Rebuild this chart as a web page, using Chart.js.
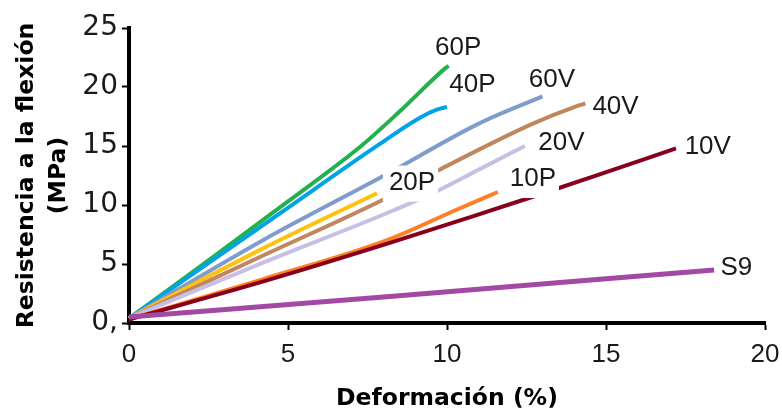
<!DOCTYPE html>
<html>
<head>
<meta charset="utf-8">
<script src="https://cdn.jsdelivr.net/npm/chart.js@4/dist/chart.umd.min.js"></script>
<style>
    html, body { margin: 0; padding: 0; background: #fff; }
</style>
</head>
<body>
<canvas id="flexCanvas" width="782" height="412"></canvas>
<script>
// series, first one is drawn on top
var series = ['S9', '10V', '10P', '20V', '40V', '20P', '60V', '40P', '60P'];

// deformacion (%) / resistencia (MPa)
var defS9 = [0, 8.2, 18.4];
var resS9 = [0.5, 2.25, 4.5];

var def10V = [0, 4.2, 8.1, 11.0, 12.7, 14.8, 17.2];
var res10V = [0.3, 3.5, 6.7, 9.2, 10.7, 12.6, 14.8];

var def10P = [0, 4.2, 8.1, 10.3, 11.6];
var res10P = [0.3, 3.7, 7.0, 9.6, 11.1];

var def20V = [0, 4.2, 8.1, 9.7, 11.0, 12.45];
var res20V = [0.4, 5.1, 9.3, 11.2, 13.0, 15.0];

var def40V = [0, 4.2, 8.1, 9.7, 12.7, 14.0, 14.35];
var res40V = [0.4, 5.7, 10.6, 12.9, 16.9, 18.3, 18.6];

var def20P = [0, 4.2, 7.8];
var res20P = [0.4, 6.3, 11.0];

var def60V = [0, 4.2, 8.1, 11.0, 13.0];
var res60V = [0.4, 7.0, 12.6, 16.9, 19.2];

var def40P = [0, 4.75, 7.9, 9.15, 9.7, 10.0];
var res40P = [0.4, 9.3, 15.2, 17.4, 18.1, 18.3];

var def60P = [0, 2.5, 5.0, 7.3, 8.5, 9.95, 10.05];
var res60P = [0.4, 5.3, 10.3, 15.0, 17.9, 21.6, 21.8];

var xTicks = [0, 5, 10, 15, 20];
var yTicks = [0, 5, 10, 15, 20, 25];

// where each name is written (data units)
var labelX = [19.1, 18.2, 12.7, 13.6, 15.3, 8.9, 13.3, 10.8, 10.35];
var labelY = [4.7, 14.9, 12.2, 15.3, 18.3, 11.9, 20.6, 20.2, 23.3];
var masked = [false, false, true, false, false, true, false, false, false];

var colors = ['#a349a4', '#88001b', '#ff7f27', '#c8bfe7', '#c2865e', '#ffc20e', '#7f9ccb', '#00a2e8', '#22b14c'];

var allDef = [defS9, def10V, def10P, def20V, def40V, def20P, def60V, def40P, def60P];
var allRes = [resS9, res10V, res10P, res20V, res40V, res20P, res60V, res40P, res60P];

var $each = function (arr, fn) { for (var i = 0; i < arr.length; i++) fn(i, arr[i]); };

var datasets = [];
$each(series, function (i, name) {
    var pts = [];
    $each(allDef[i], function (j, x) {
        pts.push({ x: x, y: allRes[i][j] });
    });
    datasets.push({
        label: name,
        data: pts,
        showLine: true,
        borderColor: colors[i],
        backgroundColor: colors[i],
        borderWidth: i == 0 ? 5 : 4,
        pointRadius: 0,
        cubicInterpolationMode: 'monotone',
        clip: false
    });
});

var seriesLabels = {
    id: 'seriesLabels',
    afterDatasetsDraw: function (chart) {
        var ctx = chart.ctx;
        var xs = chart.scales.x, ys = chart.scales.y;
        ctx.save();
        ctx.font = '26px "Liberation Sans", Arial, sans-serif';
        ctx.textAlign = 'center';
        ctx.textBaseline = 'middle';
        $each(series, function (i, name) {
            var px = xs.getPixelForValue(labelX[i]);
            var py = ys.getPixelForValue(labelY[i]);
            if (masked[i]) {
                var w = ctx.measureText(name).width;
                ctx.fillStyle = '#fff';
                ctx.fillRect(px - w / 2 - 6, py - 17, w + 9, 36);
            }
            ctx.fillStyle = '#1a1a1a';
            ctx.fillText(name, px, py);
        });
        ctx.restore();
    }
};

var ctx = document.getElementById('flexCanvas').getContext('2d');
new Chart(ctx, {
    type: 'scatter',
    data: { datasets: datasets },
    options: {
        responsive: false,
        animation: false,
        layout: { padding: { top: 28, right: 17, left: 0, bottom: 0 } },
        plugins: {
            legend: { display: false },
            tooltip: { enabled: false }
        },
        scales: {
            x: {
                type: 'linear',
                min: 0,
                max: 20,
                afterFit: function (scale) {
                    scale.height = 89;
                    // keep the plot edge where the picture has it
                    scale.paddingLeft = 0;
                    scale.paddingRight = 0;
                },
                afterBuildTicks: function (scale) {
                    scale.ticks = xTicks.map(function (v) { return { value: v }; });
                },
                grid: { drawOnChartArea: false, drawTicks: true, tickLength: 7, tickWidth: 2, tickColor: '#000' },
                border: { color: '#000', width: 4 },
                ticks: {
                    color: '#1a1a1a',
                    padding: 9,
                    maxRotation: 0,
                    font: { family: '"Liberation Sans", Arial, sans-serif', size: 26 }
                },
                title: {
                    display: true,
                    text: 'Deformación (%)',
                    color: '#000',
                    padding: 0,
                    font: { family: '"DejaVu Sans", sans-serif', size: 23.5, weight: 'bold', lineHeight: 1.1 }
                }
            },
            y: {
                min: 0,
                max: 25,
                afterFit: function (scale) { scale.width = 129; },
                afterBuildTicks: function (scale) {
                    scale.ticks = yTicks.map(function (v) { return { value: v }; });
                },
                grid: { drawOnChartArea: false, drawTicks: true, tickLength: 7, tickWidth: 2, tickColor: '#000' },
                border: { color: '#000', width: 4 },
                ticks: {
                    color: '#1a1a1a',
                    padding: 4,
                    font: { family: '"DejaVu Sans", sans-serif', size: 28 },
                    callback: function (v) { return v === 0 ? '0,' : v; }
                },
                title: {
                    display: true,
                    text: ['Resistencia a la flexión', '(MPa)'],
                    color: '#000',
                    padding: { top: 11, bottom: 0 },
                    font: { family: '"DejaVu Sans", sans-serif', size: 23.5, weight: 'bold', lineHeight: 1.36 }
                }
            }
        }
    },
    plugins: [seriesLabels]
});
</script>
</body>
</html>
